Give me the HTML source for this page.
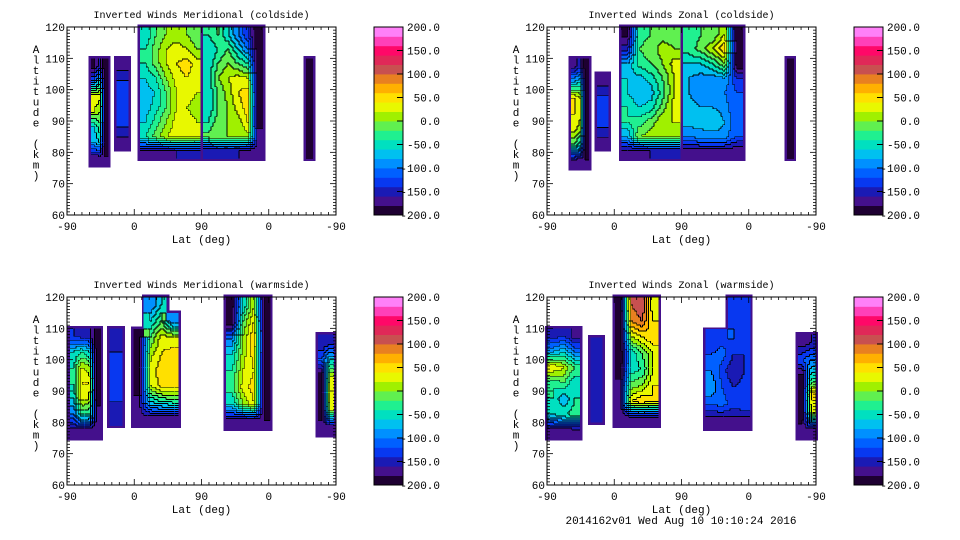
<!DOCTYPE html>
<html><head><meta charset="utf-8"><style>
html,body{margin:0;padding:0;background:#fff}
svg{display:block}
text{font-family:"Liberation Mono",monospace;fill:#000}
</style></head><body>
<svg id="chart" width="960" height="540" viewBox="0 0 960 540" xmlns="http://www.w3.org/2000/svg"></svg>
<script>
// ---- data (values in m/s, blobs placed by along-track position u in degrees 0..360, altitude in km) ----
const xTickLabels = ["-90","0","90","0","-90"];
const yTickLabels = [60,70,80,90,100,110,120];
const cbarLabels = ["200.0","150.0","100.0","50.0","0.0","-50.0","-100.0","-150.0","-200.0"];
const bandColors = ["#1e0032","#44108c","#1a1ab4","#0838f0","#0060ff","#0090ff","#00c0f0","#00e0c0","#20f090","#60f050","#a0f000","#e8f800","#ffe000","#ffb000","#e88020","#c85050","#e02858","#ff0868","#ff40b8","#ff80f8"];

const titles = ["Inverted Winds Meridional (coldside)","Inverted Winds Zonal (coldside)","Inverted Winds Meridional (warmside)","Inverted Winds Zonal (warmside)"];

const tlBlobs = [
 {u:[32,55],alt:[110,76],vals:[[-190,-120,40,20,-60,-80,-170],[-150,-60,30,0,-30,-60,-170],[-200,-200,-200,-200,-200,-200,-180]]},
 {u:[66,82],alt:[110,81],vals:[[-170,-140,-140,-140,-140,-170]]},
 {u:[98,181],alt:[120,78],vals:[[-60,-40,-40,-60,-70,-70,-60,-40,-170],[-20,-10,-10,-40,-60,-50,-30,-10,-170],[0,20,20,0,-20,-20,0,20,-170],[10,30,40,30,20,20,30,30,-160],[0,20,50,40,30,20,30,30,-160],[-20,0,30,30,20,10,20,20,-160]]},
 {u:[182,262],alt:[120,78],vals:[[-40,-60,-60,-50,-60,-60,-40,-10,-160],[-20,-40,-20,0,-20,-20,-10,0,-160],[-60,-20,0,20,10,0,0,0,-160],[-100,-60,-20,30,40,30,10,0,-160],[-140,-100,-40,20,50,50,40,10,-170],[-200,-200,-200,-200,-200,-200,-200,-160,-180]]},
 {u:[320,329],alt:[110,78],vals:[[-200,-200,-190,-200,-200,-200]]}
];
const trBlobs = [
 {u:[32,56],alt:[110,75],vals:[[-170,-80,40,40,30,-20,-170],[-150,-60,20,30,10,-50,-170],[-200,-200,-200,-200,-200,-200,-180]]},
 {u:[67,82],alt:[105,81],vals:[[-170,-140,-140,-140,-170]]},
 {u:[100,178],alt:[120,78],vals:[[-190,-150,-80,-60,-60,-40,-40,-80,-170],[-30,-20,-30,-70,-80,-60,-30,0,-170],[-20,-10,-20,-50,-70,-50,-10,10,-160],[-10,10,0,-20,-30,-10,20,10,-160],[-10,0,30,20,20,30,20,0,-160]]},
 {u:[182,262],alt:[120,78],vals:[[-40,-30,-60,-80,-80,-70,-70,-100,-170],[-20,-10,-60,-90,-100,-80,-70,-90,-170],[-20,20,-40,-90,-100,-80,-60,-90,-170],[20,60,0,-80,-100,-90,-80,-90,-170],[-200,-200,-200,-140,-120,-120,-120,-120,-180]]},
 {u:[321,330],alt:[110,78],vals:[[-200,-200,-200,-190,-200,-200]]}
];
const blBlobs = [
 {u:[4,45],alt:[110,75],vals:[[-140,-60,-40,-40,-60,-100,-170],[-150,-40,20,40,30,-40,-170],[-150,-60,10,40,20,-40,-170],[-200,-200,-200,-200,-200,-160,-180]]},
 {u:[57,74],alt:[110,79],vals:[[-150,-140,-140,-140,-140,-160]]},
 {u:[89,149],alt:[120,79],vals:[[null,null,-190,-200,-200,-200,-170,-170],[-100,-60,-20,10,30,20,-60,-170],[-60,-20,30,40,50,50,-40,-170],[null,-100,20,50,60,50,-30,-170]]},
 {u:[213,272],alt:[120,78],vals:[[-200,-200,-100,-60,-40,-30,-60,-170],[-60,-20,0,10,20,30,0,-170],[20,40,60,50,40,50,40,-170],[-200,-200,-200,-200,-200,-200,-200,-180]]},
 {u:[336,357],alt:[108,76],vals:[[-160,-120,-200,-200,-200,-170],[-150,-60,20,40,20,-170]]}
];
const brBlobs = [
 {u:[1,44],alt:[110,75],vals:[[-150,-80,40,-40,-40,-60,-170],[-140,-60,20,-20,-80,-40,-170],[-170,-100,-20,-60,-40,-30,-170]]},
 {u:[58,74],alt:[107,80],vals:[[-150,-140,-150,-140,-150]]},
 {u:[91,149],alt:[120,79],vals:[[-200,-200,-200,-200,-200,-170,-170,-180],[100,80,20,-60,-50,-10,40,-170],[120,100,40,-20,-40,0,60,-170],[20,40,60,20,20,40,40,-170]]},
 {u:[212,272],alt:[120,78],vals:[[null,null,-140,-120,-100,-80,-120,-170],[null,null,-130,-110,-130,-120,-110,-170],[-140,-130,-120,-140,-160,-140,-130,-170],[-140,-120,-130,-140,-140,-130,-120,-170]]},
 {u:[336,359],alt:[108,75],vals:[[-170,-120,-200,-200,-200,-170],[-160,-100,-40,50,20,-170]]}
];

const svg = document.getElementById('chart');
const NS = "http://www.w3.org/2000/svg";
function mk(tag, attrs, parent){
  const e = document.createElementNS(NS, tag);
  for (const k in attrs) e.setAttribute(k, attrs[k]);
  parent.appendChild(e); return e;
}
function band(v){ let b = Math.floor((v+200)/20); return Math.max(0, Math.min(19, b)); }

function sample(b, fc, fr){
  const nc = b.vals.length, nr = b.vals[0].length;
  const c = Math.floor(fc), r = Math.floor(fr);
  const ci = Math.max(0, Math.min(nc-1, c)), ri = Math.max(0, Math.min(nr-1, r));
  if (b.vals[ci][ri] === null) return null;
  const x = Math.max(0, Math.min(nc-1, fc - 0.5)), y = Math.max(0, Math.min(nr-1, fr - 0.5));
  const c0 = Math.floor(x), r0 = Math.floor(y);
  const c1 = Math.min(nc-1, c0+1), r1 = Math.min(nr-1, r0+1);
  const tx = x - c0, ty = y - r0;
  const v00 = b.vals[c0][r0], v10 = b.vals[c1][r0], v01 = b.vals[c0][r1], v11 = b.vals[c1][r1];
  if (v00===null||v10===null||v01===null||v11===null) return b.vals[ci][ri];
  return v00*(1-tx)*(1-ty) + v10*tx*(1-ty) + v01*(1-tx)*ty + v11*tx*ty;
}

function drawPanel(idx, ox, oy, blobs){
  const g = mk('g', {}, svg);
  
  
  const X0 = 67+ox, X1 = 336+ox, Y0 = 27+oy, Y1 = 215+oy;
  const xs = u => X0 + u*(X1-X0)/360;
  const ys = a => Y0 + (120-a)*(Y1-Y0)/60;

  const t = mk('text', {x:(X0+X1)/2, y:Y0-9, 'font-size':10, 'text-anchor':'middle'}, g);
  t.textContent = titles[idx];
  
  

  const plot = mk('g', {'shape-rendering':'crispEdges'}, g);
  
  
  blobs.forEach((b, bi) => {
    const bg = mk('g', {}, plot);
    
    
    const nc = b.vals.length, nr = b.vals[0].length;
    const du = (b.u[1]-b.u[0])/nc, da = (b.alt[0]-b.alt[1])/nr;
    // outer border per coarse cell
    for (let c=0;c<nc;c++) for (let r=0;r<nr;r++){
      if (b.vals[c][r]===null) continue;
      const x = xs(b.u[0]+c*du), y = ys(b.alt[0]-r*da);
      const w = xs(b.u[0]+(c+1)*du)-x, h = ys(b.alt[0]-(r+1)*da)-y;
      const e = mk('rect', {x:x-2.5, y:y-2.5, width:w+5, height:h+5, fill:'#44108c'}, bg);
      
      
    }
    // fine grid
    const px0 = xs(b.u[0]), px1 = xs(b.u[1]), py0 = ys(b.alt[0]), py1 = ys(b.alt[1]);
    const step = 2;
    const NX = Math.max(1, Math.round((px1-px0)/step)), NY = Math.max(1, Math.round((py1-py0)/step));
    const sx = (px1-px0)/NX, sy = (py1-py0)/NY;
    const grid = [];
    for (let i=0;i<NX;i++){ grid.push([]); for (let j=0;j<NY;j++){
      const fc = (i+0.5)/NX*nc, fr = (j+0.5)/NY*nr;
      const v = sample(b, fc, fr);
      grid[i].push(v===null ? null : band(v));
    }}
    for (let i=0;i<NX;i++){
      let j=0;
      while (j<NY){
        const bd = grid[i][j];
        let k=j; while (k+1<NY && grid[i][k+1]===bd) k++;
        if (bd!==null){
          const e = mk('rect', {x:px0+i*sx, y:py0+j*sy, width:sx+0.3, height:(k-j+1)*sy+0.3, fill:bandColors[bd]}, bg);
          
          
        }
        j=k+1;
      }
    }
    // contour lines
    let d = '';
    for (let i=0;i<NX;i++) for (let j=0;j<NY;j++){
      const bd = grid[i][j]; if (bd===null) continue;
      const x = px0+i*sx, y = py0+j*sy;
      if (i+1<NX && grid[i+1][j]!==null && grid[i+1][j]!==bd) d += `M${(x+sx).toFixed(1)} ${y.toFixed(1)}v${sy.toFixed(1)}`;
      if (j+1<NY && grid[i][j+1]!==null && grid[i][j+1]!==bd) d += `M${x.toFixed(1)} ${(y+sy).toFixed(1)}h${sx.toFixed(1)}`;
    }
    const p = mk('path', {d:d, stroke:'#000', 'stroke-width':0.8, fill:'none'}, bg);
    
    
  });

  // frame
  const fr = mk('rect', {x:X0, y:Y0, width:X1-X0, height:Y1-Y0, fill:'none', stroke:'#000', 'stroke-width':1}, g);
  
  
  for (let a=60; a<=120; a++){
    const len = (a%10===0) ? 6 : 3;
    const y = ys(a);
    mk('line', {x1:X0, y1:y, x2:X0+len, y2:y, stroke:'#000', 'stroke-width':0.8}, g);
    mk('line', {x1:X1, y1:y, x2:X1-len, y2:y, stroke:'#000', 'stroke-width':0.8}, g);
  }
  yTickLabels.forEach(a => {
    const e = mk('text', {x:X0-2, y:ys(a)+4, 'font-size':11, 'text-anchor':'end'}, g);
    e.textContent = a;
    
    
  });
  for (let u=0; u<=360; u+=10){
    const len = (u%90===0) ? 6 : 3;
    const x = xs(u);
    mk('line', {x1:x, y1:Y1, x2:x, y2:Y1-len, stroke:'#000', 'stroke-width':0.8}, g);
    mk('line', {x1:x, y1:Y0, x2:x, y2:Y0+len, stroke:'#000', 'stroke-width':0.8}, g);
  }
  xTickLabels.forEach((s, i) => {
    const e = mk('text', {x:xs(i*90), y:Y1+15, 'font-size':11, 'text-anchor':'middle'}, g);
    e.textContent = s;
    
    
  });
  const xt = mk('text', {x:(X0+X1)/2, y:Y1+28, 'font-size':11, 'text-anchor':'middle'}, g);
  xt.textContent = 'Lat (deg)';
  
  
  const yt = mk('g', {}, g);
  
  
  'Altitude (km)'.split('').forEach((ch, i) => {
    const e = mk('text', {x:36+ox, y:Y0+26+i*10.5, 'font-size':11, 'text-anchor':'middle'}, yt);
    e.textContent = ch;
  });

  const cb = mk('g', {}, g);
  
  
  const CX0 = 374+ox, CX1 = 403+ox, CY0 = 27+oy, CY1 = 215+oy;
  const bh = (CY1-CY0)/bandColors.length;
  bandColors.forEach((col, i) => {
    const e = mk('rect', {x:CX0, y:CY1-(i+1)*bh, width:CX1-CX0, height:bh+0.4, fill:col}, cb);
    
    
  });
  mk('rect', {x:CX0, y:CY0, width:CX1-CX0, height:CY1-CY0, fill:'none', stroke:'#000', 'stroke-width':1}, cb);
  cbarLabels.forEach((s, i) => {
    const y = CY0 + i*(CY1-CY0)/(cbarLabels.length-1);
    if (i>0 && i<cbarLabels.length-1) mk('line', {x1:CX1-6, y1:y, x2:CX1, y2:y, stroke:'#000', 'stroke-width':1}, cb);
    const e = mk('text', {x:CX1+37, y:y+4, 'font-size':11, 'text-anchor':'end'}, cb);
    e.textContent = s;
    
    
  });
}

drawPanel(0, 0, 0, tlBlobs);
drawPanel(1, 480, 0, trBlobs);
drawPanel(2, 0, 270, blBlobs);
drawPanel(3, 480, 270, brBlobs);

const ft = mk('text', {x:681, y:524, 'font-size':11, 'text-anchor':'middle'}, svg);
ft.textContent = '2014162v01 Wed Aug 10 10:10:24 2016';


</script>
</body></html>
